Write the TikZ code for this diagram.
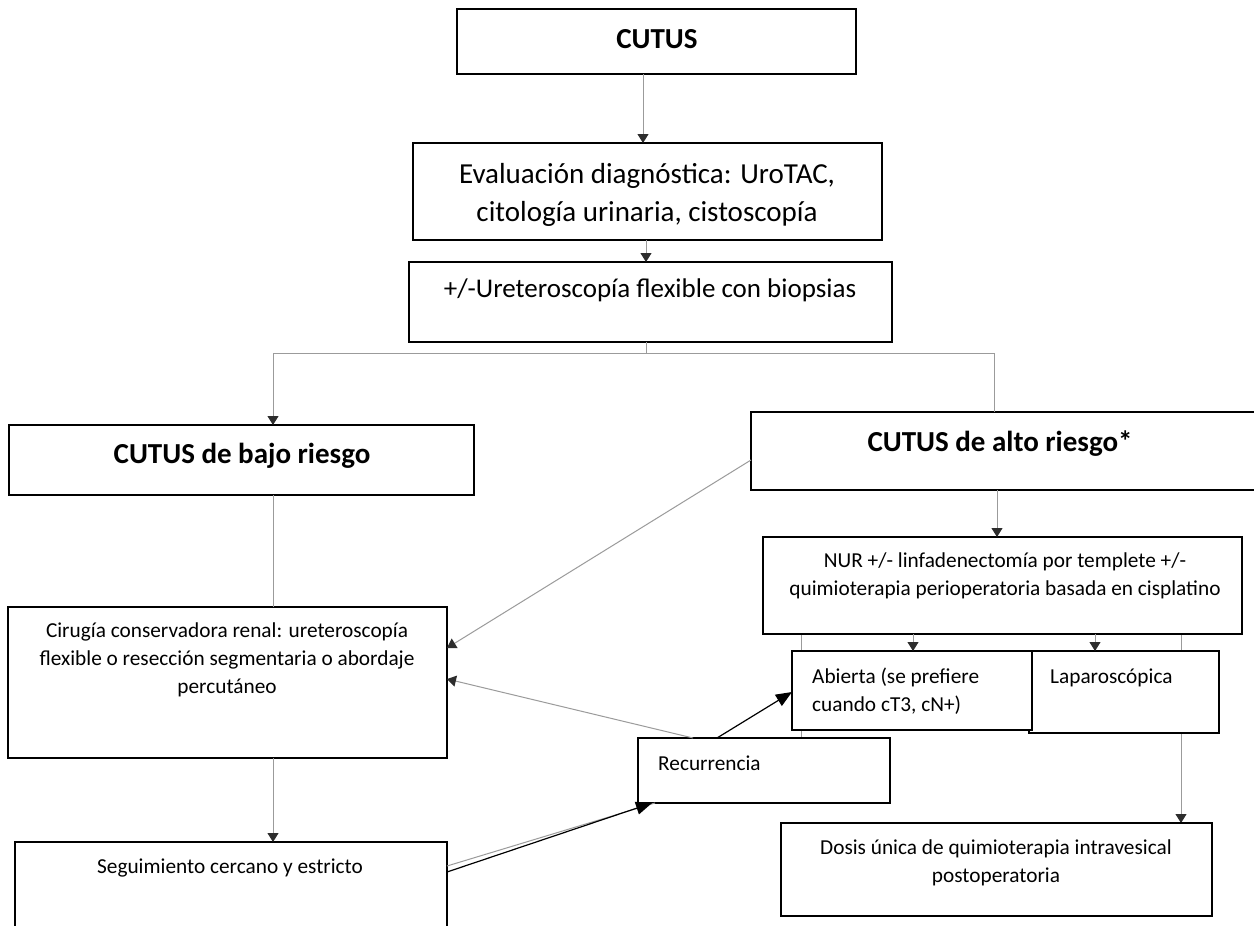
\documentclass[tikz,border=0pt]{standalone}
\usepackage{fontspec}
\setmainfont{Carlito}
\usetikzlibrary{arrows.meta,backgrounds}
\definecolor{lgray}{RGB}{155,155,155}
\definecolor{dgray}{RGB}{45,45,45}
\pgfdeclarelayer{paper}
\pgfsetlayers{paper,background,main}
\begin{document}
\begin{tikzpicture}[x=1pt,y=-1pt,
  box/.style={draw=black, line width=1.6pt, fill=white, inner sep=0pt, outer sep=0pt, anchor=north west},
  big/.style={inner sep=0pt, anchor=base, font=\fontsize{29}{38}\selectfont, align=center},
  bigb/.style={inner sep=0pt, anchor=base, font=\fontsize{29}{38}\selectfont\bfseries, align=center},
  small/.style={inner sep=0pt, anchor=base, font=\fontsize{21.3}{28}\selectfont, align=center},
  gl/.style={draw=lgray, line width=1pt},
  ga/.style={gl, -{Triangle[length=9pt,width=11pt,color=dgray]}},
  ba/.style={draw=black, line width=1.2pt, -{Triangle[length=16pt,width=13pt]}}]
\clip (0,0) rectangle (1254,926);
\begin{pgfonlayer}{paper}
\fill[white] (0,0) rectangle (1254,926);
\end{pgfonlayer}
% boxes
\node[box, minimum width=399pt, minimum height=65pt] (cutus) at (457,9) {};
\node[box, minimum width=469pt, minimum height=97pt] (eval) at (413,143) {};
\node[box, minimum width=483pt, minimum height=80pt] (uret) at (409,262) {};
\node[box, minimum width=465pt, minimum height=70pt] (bajo) at (9,425) {};
\node[box, minimum width=505pt, minimum height=78pt] (alto) at (751,412) {};
\node[box, minimum width=439pt, minimum height=151pt] (cir) at (8,607) {};
\node[box, minimum width=479pt, minimum height=97pt] (nur) at (763,537) {};
\node[box, minimum width=190pt, minimum height=82pt] (lap) at (1029,651) {};
\node[box, minimum width=240pt, minimum height=79pt] (abi) at (792,651) {};
\node[box, minimum width=252pt, minimum height=65pt] (rec) at (638,738) {};
\node[box, minimum width=431pt, minimum height=93pt] (dos) at (781,823) {};
\node[box, minimum width=432pt, minimum height=100pt] (seg) at (15,842) {};
% texts (base anchor = baseline of the last line)
\node[bigb] (t-cutus) at (657,48) {CUTUS};
\node[big] (t-eval) at (647,221) {Evaluación diagnóstica: UroTAC,\\citología urinaria, cistoscopía};
\node[big, font=\fontsize{27}{36}\selectfont] (t-uret) at (650,297) {+/-Ureteroscopía flexible con biopsias};
\node[bigb] (t-bajo) at (242,463) {CUTUS de bajo riesgo};
\node[bigb] (t-alto) at (1000,451) {CUTUS de alto riesgo*};
\node[small] (t-cir) at (227,693) {Cirugía conservadora renal: ureteroscopía\\flexible o resección segmentaria o abordaje\\percutáneo};
\node[small] (t-nur) at (1005,595) {NUR +/- linfadenectomía por templete +/-\\quimioterapia perioperatoria basada en cisplatino};
\node[small, anchor=base west, align=left] (t-abi) at (812,711) {Abierta (se prefiere\\cuando cT3, cN+)};
\node[small, anchor=base west] (t-lap) at (1050,683) {Laparoscópica};
\node[small, anchor=base west] (t-rec) at (658,770) {Recurrencia};
\node[small] (t-dos) at (996,882) {Dosis única de quimioterapia intravesical\\postoperatoria};
\node[small] (t-seg) at (230,873) {Seguimiento cercano y estricto};
% hidden connectors behind boxes
\begin{pgfonlayer}{background}
\draw[ga] (nur.south -| 1181,0) -- (dos.north -| 1181,0);
\draw[gl] (nur.south -| 801,0) -- (rec.north -| 801,0);
\end{pgfonlayer}
% connectors
\coordinate (split) at (646,353);
\coordinate (sl) at (273,353);
\coordinate (sr) at (994,353);
\draw[ga] (cutus.south -| 643,0) -- (eval.north -| 643,0);
\draw[ga] (eval.south -| 646,0) -- (uret.north -| 646,0);
\draw[gl] (uret.south -| split) -- (split);
\draw[gl] (sl) -- (sr);
\draw[ga] (sl) -- (bajo.north -| sl);
\draw[gl] (sr) -- (alto.north -| sr);
\draw[gl] (bajo.south -| 273,0) -- (cir.north -| 273,0);
\draw[ga] (cir.south -| 273,0) -- (seg.north -| 273,0);
\draw[ga] (alto.west |- 0,460) -- (cir.east |- 0,648);
\draw[ga] (alto.south -| 997,0) -- (nur.north -| 997,0);
\draw[ga] (nur.south -| 913,0) -- (abi.north -| 913,0);
\draw[ga] (nur.south -| 1095,0) -- (lap.north -| 1095,0);
\draw[ga] (rec.north -| 693,0) -- (cir.east |- 0,679);
\draw[ba] (rec.north -| 717,0) -- (abi.west |- 0,692);
\draw[gl] (seg.east |- 0,866) -- (rec.south -| 655,0);
\draw[ba] (seg.east |- 0,872) -- (rec.south -| 652,0);
\end{tikzpicture}
\end{document}
